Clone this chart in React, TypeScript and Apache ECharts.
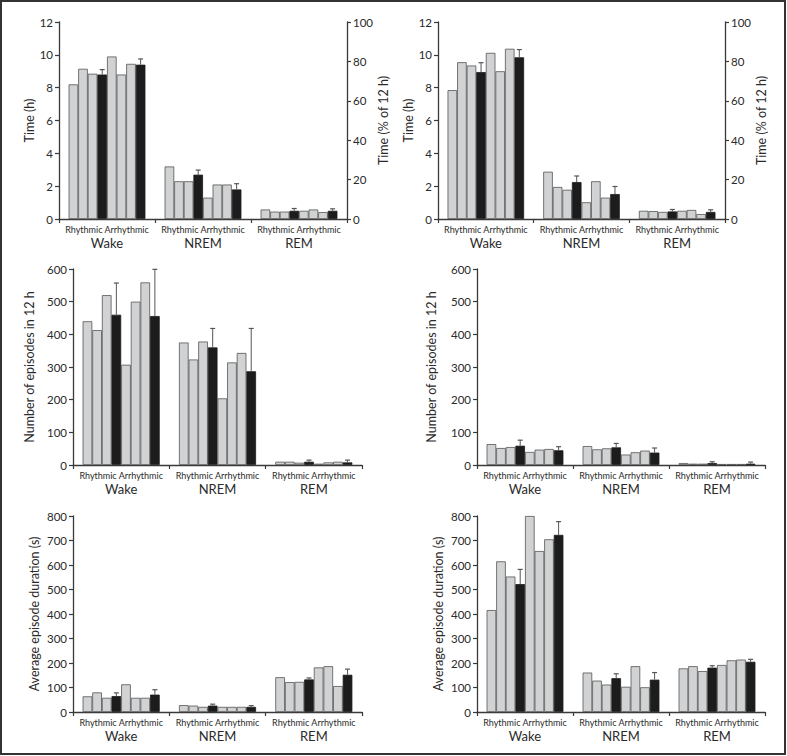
import React, { useEffect, useRef } from 'react';
import * as echarts from 'echarts';

// ---------- data ----------
const categories = ['Wake', 'NREM', 'REM'];
const subLabel = 'Rhythmic Arrhythmic';
// bar order per category: Rhythmic 1-3, Rhythmic mean, Arrhythmic 1-3, Arrhythmic mean
const timeLeftBars = [
  [8.2, 9.15, 8.85, 8.8, 9.9, 8.8, 9.45, 9.4],
  [3.2, 2.3, 2.3, 2.7, 1.3, 2.1, 2.1, 1.8],
  [0.58, 0.45, 0.45, 0.5, 0.5, 0.58, 0.42, 0.5],
];
const timeLeftErrTop = [[9.1, 9.75], [2.98, 2.15], [0.64, 0.62]];

const timeRightBars = [
  [7.85, 9.55, 9.35, 8.95, 10.12, 9.0, 10.37, 9.85],
  [2.88, 1.95, 1.78, 2.25, 1.02, 2.3, 1.3, 1.52],
  [0.5, 0.48, 0.43, 0.46, 0.5, 0.55, 0.3, 0.43],
];
const timeRightErrTop = [[9.52, 10.32], [2.62, 1.98], [0.58, 0.56]];

const episodesLeftBars = [
  [440, 413, 520, 460, 307, 500, 559, 456],
  [375, 323, 378, 360, 204, 314, 343, 287],
  [10, 10, 7, 10, 4, 8, 10, 8],
];
const episodesLeftErrTop = [[557, 599], [418, 418], [15, 15]];

const episodesRightBars = [
  [64, 52, 55, 59, 40, 47, 49, 45],
  [58, 48, 51, 54, 32, 39, 44, 38],
  [6, 4, 4, 6, 3, 3, 3, 4],
];
const episodesRightErrTop = [[76, 56], [66, 52], [10, 9]];

const durationLeftBars = [
  [64, 80, 58, 65, 113, 58, 58, 71],
  [28, 26, 21, 26, 21, 21, 21, 21],
  [142, 122, 123, 133, 182, 187, 106, 152],
];
const durationLeftErrTop = [[78, 91], [32, 26], [139, 175]];

const durationRightBars = [
  [416, 615, 553, 522, 800, 657, 705, 723],
  [161, 128, 112, 138, 103, 187, 101, 132],
  [178, 187, 167, 181, 192, 211, 214, 205],
];
const durationRightErrTop = [[582, 777], [156, 161], [189, 215]];

const timeTicks = { max: 12, interval: 2 };
const timePctTicks = { max: 100, interval: 20 };
const episodeTicks = { max: 600, interval: 100 };
const durationTicks = { max: 800, interval: 100 };

// ---------- layout ----------
const panels = [
  { bars: timeLeftBars, err: timeLeftErrTop, ticks: timeTicks, name: 'Time (h)', nameGap: 22, right: true,
    grid: { left: 59, top: 22, width: 288, height: 197 } },
  { bars: timeRightBars, err: timeRightErrTop, ticks: timeTicks, name: 'Time (h)', nameGap: 22, right: true,
    grid: { left: 438, top: 22, width: 287, height: 197 } },
  { bars: episodesLeftBars, err: episodesLeftErrTop, ticks: episodeTicks, name: 'Number of episodes in 12 h', nameGap: 37, right: false,
    grid: { left: 73, top: 269, width: 289, height: 196 } },
  { bars: episodesRightBars, err: episodesRightErrTop, ticks: episodeTicks, name: 'Number of episodes in 12 h', nameGap: 39, right: false,
    grid: { left: 477, top: 269, width: 288, height: 196 } },
  { bars: durationLeftBars, err: durationLeftErrTop, ticks: durationTicks, name: 'Average episode duration (s)', nameGap: 32, right: false,
    grid: { left: 73, top: 516, width: 289, height: 196 } },
  { bars: durationRightBars, err: durationRightErrTop, ticks: durationTicks, name: 'Average episode duration (s)', nameGap: 32, right: false,
    grid: { left: 477, top: 516, width: 288, height: 196 } },
];

const FONT = 'Lato, "Open Sans", sans-serif';
const TXT = '#2a2a2a';
const AXIS = '#3a3a3a';
const GRAY = '#d0d2d3';
const BLACK = '#1c1c1c';

function buildOption() {
  const grid: any[] = [];
  const xAxis: any[] = [];
  const yAxis: any[] = [];
  const series: any[] = [];

  panels.forEach((p, pi) => {
    grid.push({ ...p.grid, containLabel: false });
    xAxis.push({
      type: 'category',
      gridIndex: pi,
      data: categories,
      axisLine: { lineStyle: { color: AXIS, width: 1.3 } },
      axisTick: { show: true, length: 4, lineStyle: { color: AXIS, width: 1.2 } },
      axisLabel: {
        margin: 4,
        interval: 0,
        fontFamily: FONT,
        formatter: (v: string) => `{s|${subLabel}}\n{b|${v}}`,
        rich: {
          s: { fontSize: 9, lineHeight: 12, color: TXT, fontFamily: FONT },
          b: { fontSize: 13, lineHeight: 15, color: TXT, fontFamily: FONT },
        },
      },
      splitLine: { show: false },
    });
    const leftIdx = yAxis.length;
    yAxis.push({
      type: 'value',
      gridIndex: pi,
      min: 0,
      max: p.ticks.max,
      interval: p.ticks.interval,
      position: 'left',
      name: p.name,
      nameLocation: 'middle',
      nameGap: p.nameGap,
      nameTextStyle: { fontSize: 12.5, color: TXT, fontFamily: FONT },
      axisLine: { show: true, lineStyle: { color: AXIS, width: 1.3 } },
      axisTick: { show: true, length: 4, lineStyle: { color: AXIS, width: 1.2 } },
      axisLabel: { fontSize: 11.5, color: TXT, margin: 6, fontFamily: FONT },
      splitLine: { show: false },
    });
    if (p.right) {
      yAxis.push({
        type: 'value',
        gridIndex: pi,
        min: 0,
        max: timePctTicks.max,
        interval: timePctTicks.interval,
        position: 'right',
        name: 'Time (% of 12 h)',
        nameLocation: 'middle',
        nameGap: 27,
        nameRotate: 90,
        nameTextStyle: { fontSize: 12.5, color: TXT, fontFamily: FONT },
        axisLine: { show: true, lineStyle: { color: AXIS, width: 1.3 } },
        axisTick: { show: true, length: 4, lineStyle: { color: AXIS, width: 1.2 } },
        axisLabel: { fontSize: 11.5, color: TXT, margin: 6, fontFamily: FONT },
        splitLine: { show: false },
      });
    }
    for (let k = 0; k < 8; k++) {
      const isMean = k === 3 || k === 7;
      series.push({
        type: 'bar',
        xAxisIndex: pi,
        yAxisIndex: leftIdx,
        barGap: '0%',
        barCategoryGap: '20%',
        data: p.bars.map((row) => row[k]),
        itemStyle: {
          color: isMean ? BLACK : GRAY,
          borderColor: isMean ? BLACK : '#555',
          borderWidth: 0.8,
        },
        silent: true,
      });
    }
    const errData: number[][] = [];
    p.err.forEach((pair, ci) => {
      errData.push([ci, p.bars[ci][3], pair[0], 3]);
      errData.push([ci, p.bars[ci][7], pair[1], 7]);
    });
    series.push({
      type: 'custom',
      xAxisIndex: pi,
      yAxisIndex: leftIdx,
      data: errData,
      silent: true,
      z: 5,
      renderItem: (_params: any, api: any) => {
        const cat = api.value(0);
        const mean = api.value(1);
        const top = api.value(2);
        const slot = api.value(3);
        const base = api.coord([cat, mean]);
        const tp = api.coord([cat, top]);
        const band = api.size([1, 0])[0];
        const bw = (band * 0.8) / 8;
        const x = base[0] - band * 0.4 + (slot + 0.5) * bw;
        return {
          type: 'group',
          children: [
            { type: 'line', shape: { x1: x, y1: base[1], x2: x, y2: tp[1] }, style: { stroke: '#555', lineWidth: 1 } },
            { type: 'line', shape: { x1: x - 2.5, y1: tp[1], x2: x + 2.5, y2: tp[1] }, style: { stroke: '#555', lineWidth: 1.2 } },
          ],
        };
      },
    });
  });

  return {
    animation: false,
    backgroundColor: '#ffffff',
    textStyle: { fontFamily: FONT },
    grid,
    xAxis,
    yAxis,
    series,
    graphic: [
      {
        type: 'rect',
        shape: { x: 1, y: 1, width: 784, height: 753 },
        style: { fill: 'none', stroke: '#333', lineWidth: 2 },
        silent: true,
      },
    ],
  };
}

export default function App() {
  const ref = useRef<HTMLDivElement>(null);
  useEffect(() => {
    if (!ref.current) return;
    const chart = echarts.init(ref.current, undefined, { renderer: 'svg' });
    chart.setOption(buildOption() as any);
    return () => chart.dispose();
  }, []);
  return (
    <div
      ref={ref}
      style={{ position: 'absolute', left: 0, top: 0, width: 787, height: 756 }}
    />
  );
}
